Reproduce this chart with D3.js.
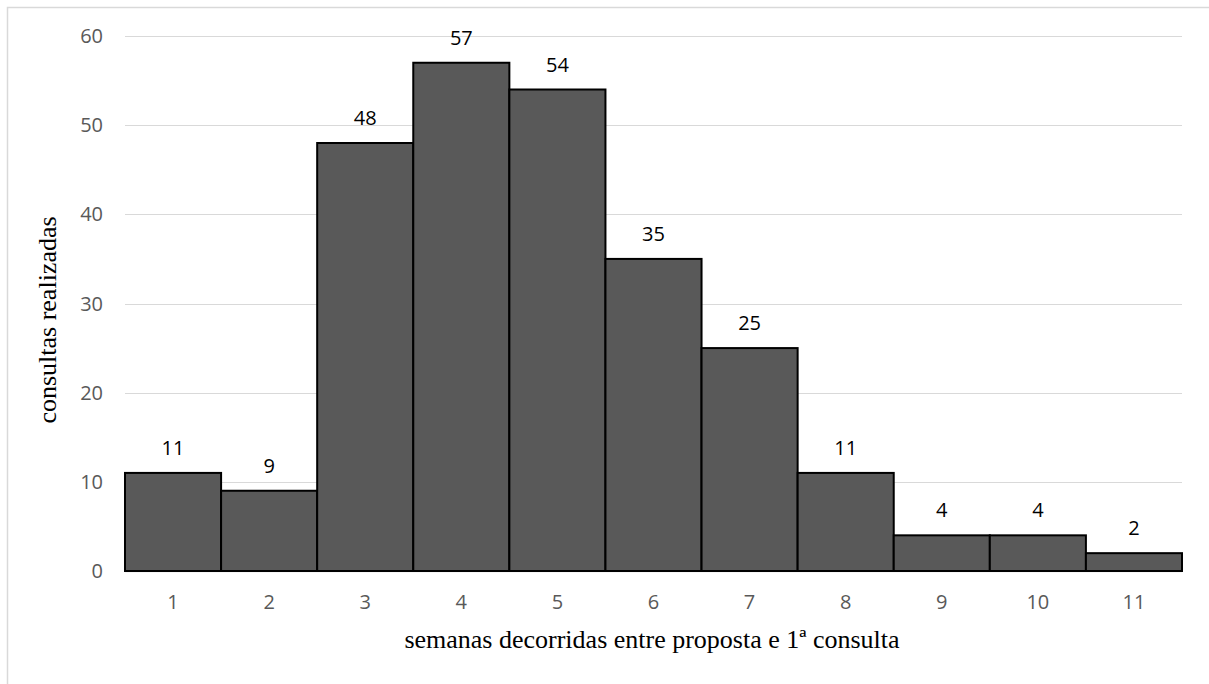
<!DOCTYPE html>
<html>
<head>
<meta charset="utf-8">
<script src="https://cdn.jsdelivr.net/npm/d3@7"></script>
<style>
  html, body { margin: 0; padding: 0; background: #fff; }
  svg { display: block; }
</style>
</head>
<body>
<svg id="chart" width="1209" height="684"></svg>
<script>
// Weeks elapsed between proposal and first appointment
const weeks = ["1", "2", "3", "4", "5", "6", "7", "8", "9", "10", "11"];
// Number of appointments held in each week
const consultas = [11, 9, 48, 57, 54, 35, 25, 11, 4, 4, 2];
const yTicks = [0, 10, 20, 30, 40, 50, 60];

const svg = d3.select("#chart");
const W = 1209, H = 684;
const plot = { left: 125, right: 1182, top: 36, bottom: 571 };
const sans = "'Open Sans', 'Liberation Sans', sans-serif";
const serif = "'Liberation Serif', 'Times New Roman', serif";

// outer chart frame
svg.append("rect")
  .attr("x", 7.5).attr("y", 7.5)
  .attr("width", W + 20).attr("height", H + 20)
  .attr("fill", "#fff").attr("stroke", "#d9d9d9").attr("stroke-width", 1.5);

const x = d3.scaleBand().domain(weeks).range([plot.left, plot.right]).padding(0);
const y = d3.scaleLinear().domain([0, 60]).range([plot.bottom, plot.top]);

// horizontal gridlines
svg.append("g")
  .selectAll("line")
  .data(yTicks.filter(d => d > 0))
  .join("line")
  .attr("x1", plot.left).attr("x2", plot.right)
  .attr("y1", d => Math.round(y(d)) + 0.5).attr("y2", d => Math.round(y(d)) + 0.5)
  .attr("stroke", "#d9d9d9").attr("stroke-width", 1.2);

// baseline
svg.append("line")
  .attr("x1", plot.left).attr("x2", plot.right)
  .attr("y1", y(0) + 0.5).attr("y2", y(0) + 0.5)
  .attr("stroke", "#d9d9d9").attr("stroke-width", 1.5);

// y tick labels
svg.append("g")
  .selectAll("text")
  .data(yTicks)
  .join("text")
  .attr("x", 103).attr("y", d => y(d))
  .attr("dy", "0.35em")
  .attr("text-anchor", "end")
  .attr("font-family", sans)
  .attr("font-size", 20)
  .attr("fill", "#595959")
  .text(d => d);

// x tick labels
svg.append("g")
  .selectAll("text")
  .data(weeks)
  .join("text")
  .attr("x", d => x(d) + x.bandwidth() / 2)
  .attr("y", 602)
  .attr("dy", "0.35em")
  .attr("text-anchor", "middle")
  .attr("font-family", sans)
  .attr("font-size", 20)
  .attr("fill", "#595959")
  .text(d => d);

// bars
svg.append("g")
  .selectAll("rect")
  .data(consultas)
  .join("rect")
  .attr("x", (d, i) => x(weeks[i]))
  .attr("y", d => y(d))
  .attr("width", x.bandwidth())
  .attr("height", d => y(0) - y(d))
  .attr("fill", "#595959")
  .attr("stroke", "#000")
  .attr("stroke-width", 2);

// value labels
svg.append("g")
  .selectAll("text")
  .data(consultas)
  .join("text")
  .attr("x", (d, i) => x(weeks[i]) + x.bandwidth() / 2)
  .attr("y", d => y(d) - 25)
  .attr("dy", "0.35em")
  .attr("text-anchor", "middle")
  .attr("font-family", sans)
  .attr("font-size", 20)
  .attr("fill", "#000")
  .text(d => d);

// axis titles
svg.append("text")
  .attr("x", 652)
  .attr("y", 648)
  .attr("text-anchor", "middle")
  .attr("font-family", serif)
  .attr("font-size", 26)
  .attr("fill", "#000")
  .text("semanas decorridas entre proposta e 1ª consulta");

svg.append("text")
  .attr("transform", "translate(47, 320) rotate(-90)")
  .attr("dy", "0.35em")
  .attr("text-anchor", "middle")
  .attr("font-family", serif)
  .attr("font-size", 26)
  .attr("fill", "#000")
  .text("consultas realizadas");
</script>
</body>
</html>
